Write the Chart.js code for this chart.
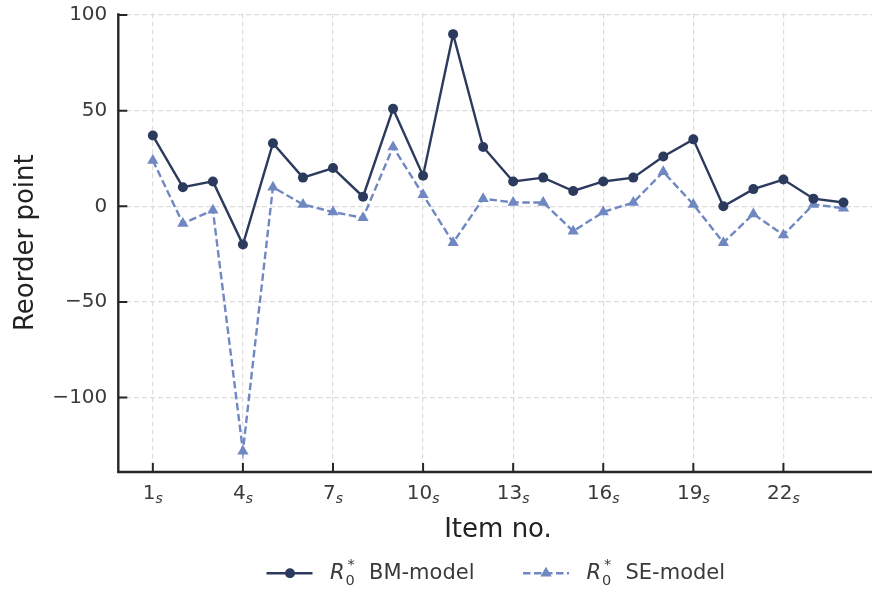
<!DOCTYPE html>
<html><head><meta charset="utf-8">
<script src="https://cdn.jsdelivr.net/npm/chart.js@4/dist/chart.umd.min.js"></script>
<style>html,body{margin:0;padding:0;background:#fff;overflow:hidden}canvas{display:block}</style>
</head><body>
<canvas id="c" width="872" height="589"></canvas>
<script>
// ---- data ----
const items = [1,2,3,4,5,6,7,8,9,10,11,12,13,14,15,16,17,18,19,20,21,22,23,24];
const bmValues = [37,10,13,-20,33,15,20,5,51,16,90,31,13,15,8,13,15,26,35,0,9,14,4,2];
const seValues = [24,-9,-2,-128,10,1,-3,-6,31,6,-19,4,2,2,-13,-3,2,18,1,-19,-4,-15,1,-1];
const xTickValues = [1,4,7,10,13,16,19,22];
const yTickValues = [-100,-50,0,50,100];
const seriesNames = ['BM-model','SE-model'];
const xTitle = 'Item no.';
const yTitle = 'Reorder point';

const BM_COLOR = '#2c3a5e';
const SE_COLOR = '#7088c2';
const FONT = '"DejaVu Sans", sans-serif';
const TICK_COLOR = '#3a3a3a';
const SPINE_COLOR = '#262626';

function drawMathLabel(ctx, x, base, name){
  ctx.fillStyle = TICK_COLOR;
  ctx.textAlign = 'left';
  ctx.textBaseline = 'alphabetic';
  ctx.font = 'italic 21px ' + FONT;
  ctx.fillText('R', x, base);
  ctx.font = '14.5px ' + FONT;
  ctx.fillText('0', x + 15.5, base + 6);
  ctx.fillText('*', x + 17.5, base - 9.5);
  ctx.font = '21px ' + FONT;
  ctx.fillText(name, x + 39, base);
}

function zeroPad(s){ s.paddingTop = 0; s.paddingBottom = 0; s.paddingLeft = 0; s.paddingRight = 0; }

const overlay = {
  id: 'overlay',
  afterDraw(chart){
    const ctx = chart.ctx;
    const a = chart.chartArea;
    const xs = chart.scales.x, ys = chart.scales.y;
    ctx.save();
    // spines
    ctx.strokeStyle = SPINE_COLOR;
    ctx.lineWidth = 2.4;
    ctx.lineCap = 'butt';
    ctx.beginPath();
    ctx.moveTo(a.left, a.top);
    ctx.lineTo(a.left, a.bottom);
    ctx.lineTo(a.right, a.bottom);
    ctx.stroke();
    // inward ticks
    ctx.lineWidth = 2;
    ctx.beginPath();
    xTickValues.forEach(v => {
      const px = xs.getPixelForValue(v);
      ctx.moveTo(px, a.bottom); ctx.lineTo(px, a.bottom - 9);
    });
    yTickValues.forEach(v => {
      const py = ys.getPixelForValue(v);
      ctx.moveTo(a.left, py); ctx.lineTo(a.left + 9, py);
    });
    ctx.stroke();
    // x tick labels with italic subscript s
    ctx.fillStyle = TICK_COLOR;
    ctx.textBaseline = 'alphabetic';
    ctx.textAlign = 'left';
    xTickValues.forEach(v => {
      const px = xs.getPixelForValue(v);
      const num = String(v);
      ctx.font = '20px ' + FONT;
      const w1 = ctx.measureText(num).width;
      ctx.font = 'italic 14px ' + FONT;
      const w2 = ctx.measureText('s').width;
      const x0 = px - (w1 + w2) / 2;
      ctx.font = '20px ' + FONT;
      ctx.fillText(num, x0, 499);
      ctx.font = 'italic 14px ' + FONT;
      ctx.fillText('s', x0 + w1, 502.5);
    });
    // axis titles
    ctx.fillStyle = '#222222';
    ctx.font = '26px ' + FONT;
    ctx.textAlign = 'center';
    ctx.fillText(xTitle, 498, 537);
    ctx.save();
    ctx.translate(33, (a.top + a.bottom) / 2);
    ctx.rotate(-Math.PI / 2);
    ctx.fillText(yTitle, 0, 0);
    ctx.restore();
    // legend
    const ly = 573.3;
    ctx.lineWidth = 2.4;
    ctx.strokeStyle = BM_COLOR;
    ctx.setLineDash([]);
    ctx.beginPath(); ctx.moveTo(266.5, ly); ctx.lineTo(312.5, ly); ctx.stroke();
    ctx.fillStyle = BM_COLOR;
    ctx.beginPath(); ctx.arc(290, ly, 5, 0, Math.PI * 2); ctx.fill();
    drawMathLabel(ctx, 330, 578.5, seriesNames[0]);

    ctx.strokeStyle = SE_COLOR;
    ctx.setLineDash([7.5, 3.5]);
    ctx.beginPath(); ctx.moveTo(523, ly); ctx.lineTo(569, ly); ctx.stroke();
    ctx.setLineDash([]);
    ctx.fillStyle = SE_COLOR;
    const r = 6.5;
    ctx.beginPath();
    ctx.moveTo(546, ly - r);
    ctx.lineTo(546 + r * 0.866, ly + r * 0.5);
    ctx.lineTo(546 - r * 0.866, ly + r * 0.5);
    ctx.closePath(); ctx.fill();
    drawMathLabel(ctx, 586.5, 578.5, seriesNames[1]);
    ctx.restore();
  }
};

const gridOpts = { color: '#dcdcdc', lineWidth: 1.2, drawTicks: false };

new Chart(document.getElementById('c'), {
  type: 'line',
  data: {
    datasets: [
      {
        label: seriesNames[0],
        data: items.map((x, i) => ({x: x, y: bmValues[i]})),
        borderColor: BM_COLOR, backgroundColor: BM_COLOR,
        borderWidth: 2.4, pointStyle: 'circle', pointRadius: 5,
        pointBorderWidth: 0, tension: 0, fill: false
      },
      {
        label: seriesNames[1],
        data: items.map((x, i) => ({x: x, y: seValues[i]})),
        borderColor: SE_COLOR, backgroundColor: SE_COLOR,
        borderWidth: 2.4, borderDash: [7.5, 3.5], pointStyle: 'triangle', pointRadius: 6.5,
        pointBorderWidth: 0, tension: 0, fill: false
      }
    ]
  },
  options: {
    responsive: false,
    animation: false,
    devicePixelRatio: 1,
    layout: { autoPadding: false, padding: { left: 0, top: 13.3, right: 0, bottom: 0 } },
    plugins: { legend: { display: false }, tooltip: { enabled: false } },
    scales: {
      x: {
        type: 'linear', min: -0.15, max: 24.95,
        afterBuildTicks: s => { s.ticks = xTickValues.map(v => ({value: v})); },
        afterFit: s => { s.height = 117; zeroPad(s); },
        ticks: { display: false },
        grid: gridOpts,
        border: { display: false, dash: [5, 3] }
      },
      y: {
        type: 'linear', min: -138.9, max: 100.9,
        afterBuildTicks: s => { s.ticks = yTickValues.map(v => ({value: v})); },
        afterFit: s => { s.width = 118.3; zeroPad(s); },
        ticks: {
          font: { family: 'DejaVu Sans', size: 20 }, color: TICK_COLOR, padding: 11,
          callback: v => String(v).replace('-', '\u2212')
        },
        grid: gridOpts,
        border: { display: false, dash: [5, 3] }
      }
    }
  },
  plugins: [overlay]
});
</script>
</body></html>
